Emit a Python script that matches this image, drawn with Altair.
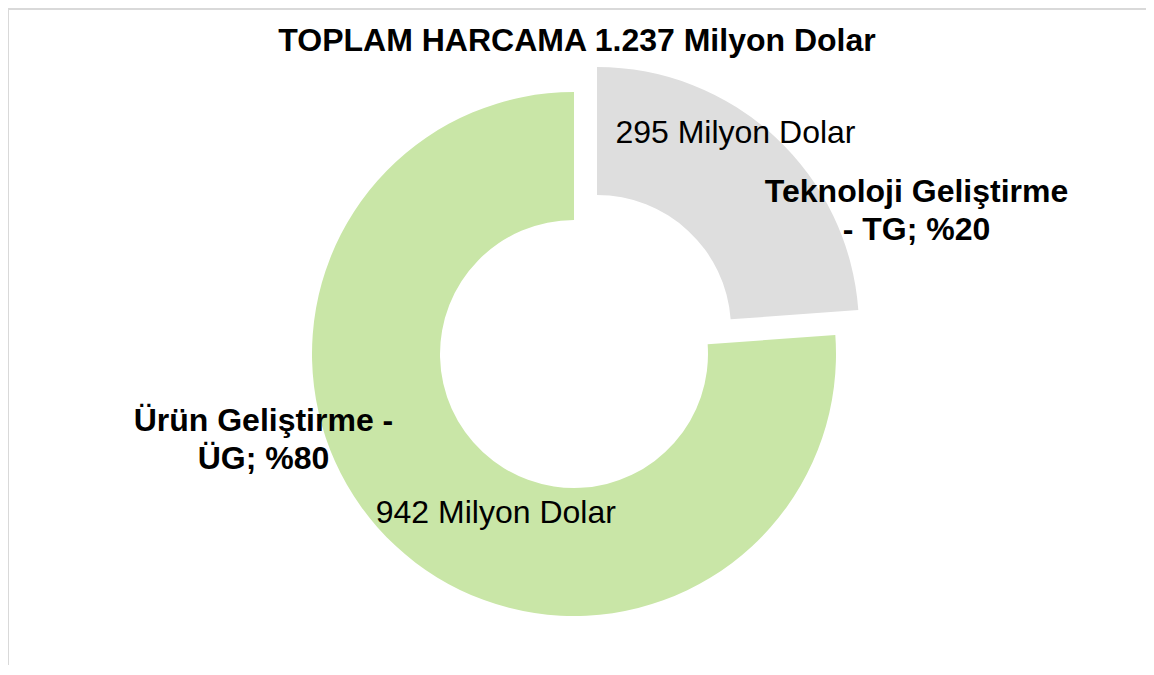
import altair as alt
import pandas as pd

# ---- data ----
codes = ["TG", "ÜG"]
values = [295, 942]
order = [1, 2]
name_labels = ["Teknoloji Geliştirme\n- TG; %20", "Ürün Geliştirme -\nÜG; %80"]
value_labels = [f"{v} Milyon Dolar" for v in values]
colors = ["#DEDEDE", "#C9E6A7"]
title_text = "TOPLAM HARCAMA 1.237 Milyon Dolar"

df = pd.DataFrame({
    "code": codes,
    "value": values,
    "ord": order,
    "name": name_labels,
    "vlabel": value_labels,
})

W, H = 1138, 657
GREEN_C = (566, 346)
GRAY_C = (589, 321)
R_OUT, R_IN = 262, 134
FONT = "Liberation Sans"

base = alt.Chart(df).encode(
    theta=alt.Theta("value:Q", stack=True),
    order=alt.Order("ord:Q"),
)

color = alt.Color("code:N", scale=alt.Scale(domain=codes, range=colors), legend=None)


def only(code):
    return alt.condition(alt.datum.code == code, alt.value(1), alt.value(0))


gray_arc = base.mark_arc(outerRadius=R_OUT, innerRadius=R_IN).encode(
    color=color, opacity=only("TG"),
    x=alt.value(GRAY_C[0]), y=alt.value(GRAY_C[1]),
)
green_arc = base.mark_arc(outerRadius=R_OUT, innerRadius=R_IN).encode(
    color=color, opacity=only("ÜG"),
    x=alt.value(GREEN_C[0]), y=alt.value(GREEN_C[1]),
)

gray_val = base.mark_text(radius=240, dx=-25, dy=-20, font=FONT, fontSize=32,
                          color="black", align="center", baseline="middle").encode(
    text="vlabel:N", opacity=only("TG"),
    x=alt.value(GRAY_C[0]), y=alt.value(GRAY_C[1]),
)
green_val = base.mark_text(radius=200, dx=58, dy=13, font=FONT, fontSize=32,
                           color="black", align="center", baseline="middle").encode(
    text="vlabel:N", opacity=only("ÜG"),
    x=alt.value(GREEN_C[0]), y=alt.value(GREEN_C[1]),
)
gray_name = base.mark_text(radius=340, dx=88, dy=112, font=FONT, fontSize=32,
                           fontWeight="bold", lineBreak="\n", lineHeight=38,
                           color="black", align="center", baseline="middle").encode(
    text="name:N", opacity=only("TG"),
    x=alt.value(GRAY_C[0]), y=alt.value(GRAY_C[1]),
)
green_name = base.mark_text(radius=340, dx=-79, dy=-182, font=FONT, fontSize=32,
                            fontWeight="bold", lineBreak="\n", lineHeight=38,
                            color="black", align="center", baseline="middle").encode(
    text="name:N", opacity=only("ÜG"),
    x=alt.value(GREEN_C[0]), y=alt.value(GREEN_C[1]),
)

one = alt.Chart(pd.DataFrame({"t": [title_text]}))
title = one.mark_text(font=FONT, fontSize=32, fontWeight="bold", color="black",
                      align="center", baseline="alphabetic").encode(
    text="t:N", x=alt.value(569), y=alt.value(43),
)
left_border = one.mark_rule(color="#D9D9D9", strokeWidth=2).encode(
    x=alt.value(0), y=alt.value(0), y2=alt.value(H),
)
top_border = one.mark_rule(color="#D9D9D9", strokeWidth=2).encode(
    x=alt.value(0), x2=alt.value(W), y=alt.value(1),
)

chart = alt.layer(
    left_border, top_border,
    green_arc, gray_arc,
    gray_val, green_val, gray_name, green_name,
    title,
).properties(
    width=W, height=H,
    autosize=alt.AutoSizeParams(type="none"),
    padding=0,
    background="white",
).configure_view(stroke=None)

chart.save("out.html", embed_options={"renderer": "svg", "actions": False})
